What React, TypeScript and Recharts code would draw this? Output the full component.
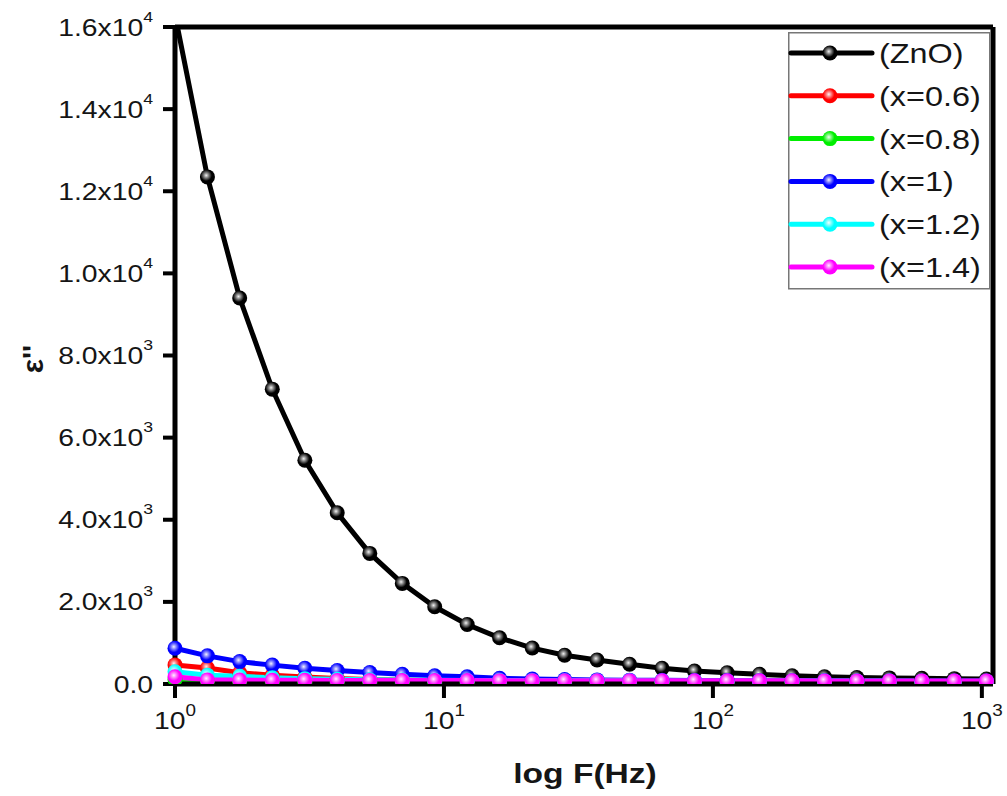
import { LineChart, Line, XAxis, YAxis, Legend, ReferenceLine } from "recharts"

// frequency (Hz) of each measured point
const freq = [1, 1.32, 1.74, 2.3, 3.04, 4.01, 5.3, 7.0, 9.24, 12.2, 16.1, 21.3, 28.1, 37.1, 49.0, 64.7, 85.4, 113, 149, 197, 260, 343, 453, 598, 790, 1040]

// ε'' for each sample
const zno = [16300, 12350, 9400, 7180, 5450, 4170, 3180, 2450, 1880, 1450, 1125, 875, 700, 585, 480, 385, 315, 275, 236, 202, 178, 160, 148, 138, 130, 122]
const x06 = [465, 390, 275, 215, 170, 135, 110, 95, 85, 78, 73, 70, 67, 65, 63, 62, 61, 60, 59, 58, 57, 57, 56, 56, 55, 55]
const x08 = [110, 80, 65, 55, 50, 46, 43, 41, 40, 39, 38, 37, 36, 36, 35, 35, 34, 34, 33, 33, 33, 32, 32, 32, 31, 31]
const x10 = [870, 685, 545, 460, 385, 330, 280, 235, 200, 175, 140, 120, 108, 100, 94, 90, 86, 83, 81, 79, 77, 76, 75, 74, 73, 72]
const x12 = [300, 215, 190, 150, 130, 115, 105, 98, 92, 88, 85, 82, 80, 78, 77, 76, 75, 74, 73, 72, 72, 71, 71, 70, 70, 70]
const x14 = [175, 100, 95, 92, 90, 88, 86, 85, 84, 83, 82, 81, 80, 80, 79, 79, 78, 78, 77, 77, 76, 76, 76, 75, 75, 75]

const seriesKeys = ["zno", "x06", "x08", "x10", "x12", "x14"]
const seriesNames = ["(ZnO)", "(x=0.6)", "(x=0.8)", "(x=1)", "(x=1.2)", "(x=1.4)"]
const seriesColors = ["#000000", "#ff0000", "#00ee00", "#0000ff", "#00ffff", "#ff00ff"]

const yTicks = [0, 2000, 4000, 6000, 8000, 10000, 12000, 14000, 16000]
const xTicks = [1, 10, 100, 1000]

const data = freq.map((f, i) => ({
  f,
  zno: zno[i],
  x06: x06[i],
  x08: x08[i],
  x10: x10[i],
  x12: x12[i],
  x14: x14[i],
}))

const FONT = "'Liberation Sans', Arial, sans-serif"
const INK = "#151515"

const YTick = (props: any) => {
  const { x, y, payload } = props
  const v = payload.value as number
  let mant = "0.0"
  let exp = ""
  if (v > 0) {
    const e = Math.floor(Math.log10(v) + 1e-9)
    mant = (v / Math.pow(10, e)).toFixed(1) + "x10"
    exp = String(e)
  }
  return (
    <g transform={`translate(${x},${y}) scale(1.18,1)`}>
      <text x={0} y={8.5} textAnchor="end" fontSize={24} fill={INK} fontFamily={FONT}>
        {mant}
        {exp && (
          <tspan dy={-14} fontSize={15}>
            {exp}
          </tspan>
        )}
      </text>
    </g>
  )
}

const XTick = (props: any) => {
  const { x, y, payload } = props
  const e = Math.round(Math.log10(payload.value))
  return (
    <g transform={`translate(${x},${y}) scale(1.18,1)`}>
      <text x={0} y={23} textAnchor="middle" fontSize={24} fill={INK} fontFamily={FONT}>
        10
        <tspan dy={-13} fontSize={16}>
          {e}
        </tspan>
      </text>
    </g>
  )
}

const makeDot = (key: string, color: string) => (props: any) => {
  const { cx, cy, index } = props
  if (cx == null || cy == null) return <g key={`${key}-${index}`} />
  return (
    <g key={`${key}-${index}`}>
      <circle cx={cx} cy={cy} r={7.5} fill={color} />
      <circle cx={cx} cy={cy} r={7.5} fill="url(#shine)" />
    </g>
  )
}

const LegendBox = () => (
  <svg width={204} height={259} style={{ display: "block" }}>
    <rect x={0.75} y={0.75} width={201} height={256} fill="#fff" stroke="#777" strokeWidth={1.5} />
    {seriesNames.map((name, i) => {
      const cy = 21 + i * 42.8
      return (
        <g key={name}>
          <line x1={3} x2={84} y1={cy} y2={cy} stroke={seriesColors[i]} strokeWidth={5} strokeLinecap="round" />
          <circle cx={42} cy={cy} r={7.5} fill={seriesColors[i]} />
          <circle cx={42} cy={cy} r={7.5} fill="url(#shine)" />
          <g transform={`translate(91,${cy + 10}) scale(1.2,1)`}>
            <text x={0} y={0} fontSize={27} fill={INK} fontFamily={FONT}>
              {name}
            </text>
          </g>
        </g>
      )
    })}
  </svg>
)

export default function App() {
  return (
    <div style={{ position: "absolute", left: 0, top: 0, background: "#fff" }}>
      <LineChart width={1007} height={796} data={data} margin={{ top: 27, right: 14, left: 0, bottom: 0 }}>
        <defs>
          <radialGradient id="shine" cx="0.42" cy="0.4" r="0.5">
            <stop offset="0" stopColor="#fff" stopOpacity={0.95} />
            <stop offset="0.3" stopColor="#fff" stopOpacity={0.55} />
            <stop offset="0.75" stopColor="#fff" stopOpacity={0} />
          </radialGradient>
        </defs>
        <XAxis
          dataKey="f"
          type="number"
          scale="log"
          domain={[1, 1100]}
          ticks={xTicks}
          height={112}
          tickSize={14}
          tickMargin={8}
          tick={<XTick />}
          tickLine={{ stroke: "#000", strokeWidth: 4 }}
          axisLine={{ stroke: "#000", strokeWidth: 5 }}
          label={{
            content: () => (
              <g transform="translate(585,783) scale(1.2,1)">
                <text x={0} y={0} textAnchor="middle" fontSize={28} fontWeight="bold" fill={INK} fontFamily={FONT}>
                  log F(Hz)
                </text>
              </g>
            ),
          }}
        />
        <YAxis
          type="number"
          domain={[0, 16000]}
          allowDataOverflow
          ticks={yTicks}
          width={175}
          tickSize={12}
          tickMargin={10}
          tick={<YTick />}
          tickLine={{ stroke: "#000", strokeWidth: 4 }}
          axisLine={{ stroke: "#000", strokeWidth: 5 }}
          label={{
            content: () => (
              <text
                transform="translate(43,359) rotate(-90)"
                textAnchor="middle"
                fontSize={30}
                fontWeight="bold"
                fill={INK}
                fontFamily={FONT}
              >
                ε''
              </text>
            ),
          }}
        />
        <ReferenceLine y={16000} stroke="#000" strokeWidth={5} />
        <ReferenceLine x={1100} stroke="#000" strokeWidth={5} />
        {seriesKeys.map((k, i) => (
          <Line
            key={k}
            type="linear"
            dataKey={k}
            name={seriesNames[i]}
            stroke={seriesColors[i]}
            strokeWidth={5}
            dot={makeDot(k, seriesColors[i])}
            activeDot={false}
            isAnimationActive={false}
          />
        ))}
        <Legend
          layout="horizontal"
          align="center"
          verticalAlign="middle"
          content={() => <LegendBox />}
          wrapperStyle={{ position: "absolute", left: 788, top: 32, width: 204, height: 259 }}
        />
      </LineChart>
    </div>
  )
}
